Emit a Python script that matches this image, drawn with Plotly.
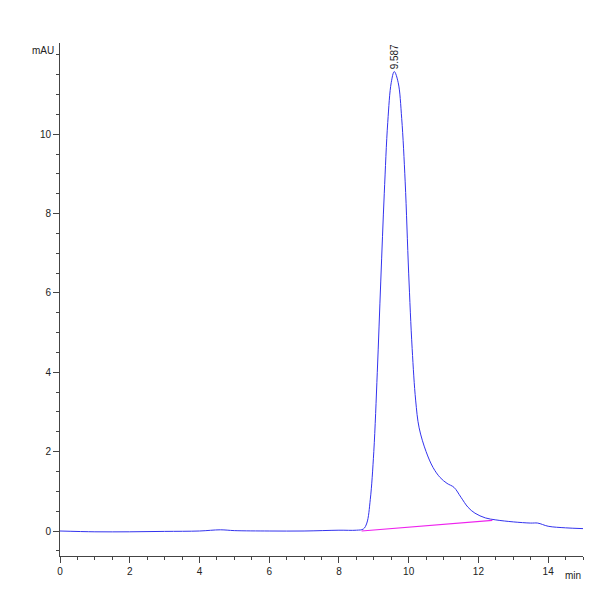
import plotly.graph_objects as go

# chromatogram signal (min, mAU)
time_min = [0, 1, 2, 3, 4, 4.6, 5, 6, 7, 8, 8.5, 8.7, 8.8, 8.9, 9.0, 9.1, 9.2, 9.3, 9.4, 9.5,
            9.587, 9.7, 9.8, 9.9, 10.0, 10.1, 10.2, 10.3, 10.5, 10.7, 10.9, 11.1, 11.3, 11.5,
            11.7, 11.9, 12.2, 12.5, 13.0, 13.5, 13.7, 14.0, 14.5, 15.0]
signal_mau = [0.0, -0.02, -0.02, -0.01, 0.0, 0.03, 0.01, 0.0, 0.0, 0.02, 0.02, 0.05, 0.2, 0.8,
              2.0, 4.0, 6.3, 8.5, 10.3, 11.3, 11.58, 11.3, 10.4, 8.8, 6.5, 4.6, 3.3, 2.6, 2.0,
              1.6, 1.35, 1.2, 1.1, 0.85, 0.6, 0.45, 0.33, 0.28, 0.23, 0.2, 0.2, 0.12, 0.08, 0.06]
base_t = [8.65, 12.4]
base_y = [0.0, 0.27]
peak_t = 9.587
peak_y = 11.58

fig = go.Figure()
fig.add_trace(go.Scatter(x=time_min, y=signal_mau, mode="lines",
                         line=dict(color="#3333ee", width=1, shape="spline")))
fig.add_trace(go.Scatter(x=base_t, y=base_y, mode="lines",
                         line=dict(color="#ee22ee", width=1.2)))
fig.add_annotation(x=peak_t, y=peak_y, text=str(peak_t), textangle=-90, showarrow=False,
                   yanchor="bottom", xanchor="center", font=dict(size=10, color="#222"))
fig.add_annotation(x=0, y=1, xref="paper", yref="paper", text="mAU", showarrow=False,
                   xanchor="right", yanchor="top", xshift=-4, font=dict(size=10))
fig.add_annotation(x=1, y=0, xref="paper", yref="paper", text="min", showarrow=False,
                   xanchor="right", yanchor="top", yshift=-12, font=dict(size=10))

fig.update_layout(
    width=600, height=600, showlegend=False,
    plot_bgcolor="white", paper_bgcolor="white",
    margin=dict(l=52, r=25, t=35, b=52, autoexpand=False),
    font=dict(family="Liberation Sans", size=10, color="#222"),
    xaxis=dict(range=[0, 15], tickvals=[0, 2, 4, 6, 8, 10, 12, 14], showgrid=False,
               zeroline=False, showline=True, linecolor="#444", ticks="outside",
               ticklen=6, minor=dict(dtick=0.5, ticks="outside", ticklen=3)),
    yaxis=dict(range=[-0.63, 12.3], tickvals=[0, 2, 4, 6, 8, 10], showgrid=False,
               zeroline=False, showline=True, linecolor="#444", ticks="outside",
               ticklen=6, minor=dict(dtick=0.5, ticks="outside", ticklen=3)),
)
fig.write_html("out.html")
